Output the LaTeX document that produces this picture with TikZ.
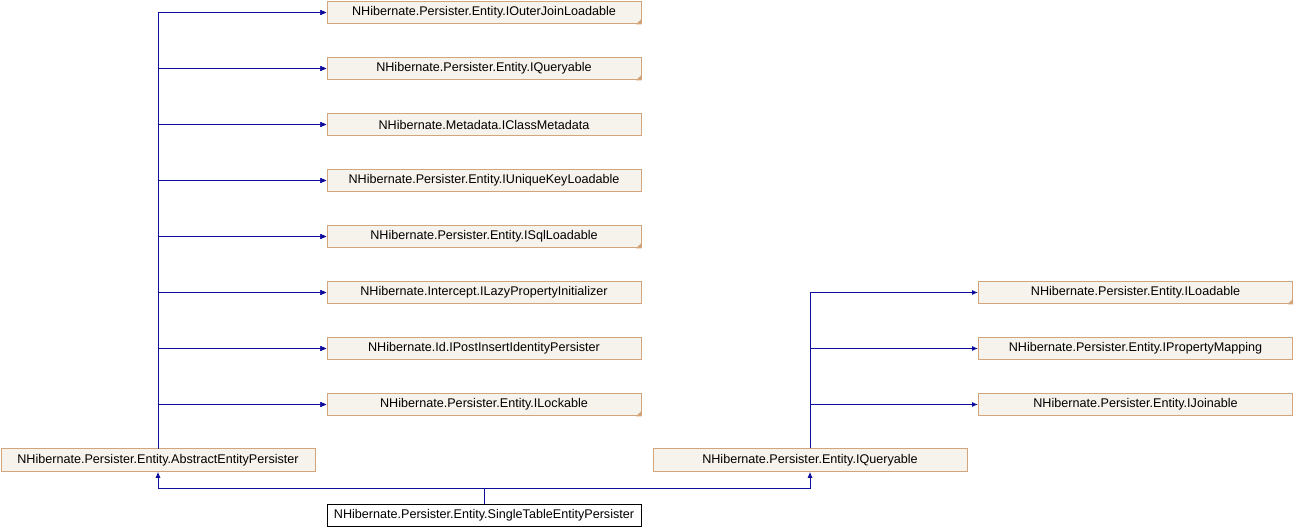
\documentclass[tikz,border=0pt]{standalone}
\usepackage{fontspec}
\setmainfont{Liberation Sans}
\usetikzlibrary{arrows.meta}
\definecolor{boxfill}{RGB}{246,242,236}
\definecolor{boxline}{RGB}{210,165,125}
\definecolor{edgeblue}{RGB}{14,14,158}
\tikzset{
  iface/.style={draw=boxline, fill=boxfill, line width=1pt, minimum width=314pt,
    minimum height=22.5pt, inner sep=0pt, font=\fontsize{12.6}{14}\selectfont},
  leaf/.style={iface, draw=black, fill=white},
  inherit/.style={draw=edgeblue, line width=1pt, -{Latex[length=6pt,width=5pt]}},
}
\newcommand{\dogear}[1]{\fill[boxline] ([xshift=-5.5pt]#1.south east) -- (#1.south east) -- ([yshift=5.5pt]#1.south east) -- cycle;}
\begin{document}
\begin{tikzpicture}[x=1pt,y=-1pt]
\useasboundingbox (0,0) rectangle (1294,528);
% interfaces of AbstractEntityPersister
\foreach \lbl [count=\i] in {Persister.Entity.IOuterJoinLoadable,Persister.Entity.IQueryable,
  Metadata.IClassMetadata,Persister.Entity.IUniqueKeyLoadable,Persister.Entity.ISqlLoadable,
  Intercept.ILazyPropertyInitializer,Id.IPostInsertIdentityPersister,Persister.Entity.ILockable}
  \node[iface] (left\i) at (484,{12.5+56*(\i-1)}) {NHibernate.\lbl};
% interfaces of IQueryable
\node[iface] (right1) at (1135.5,292.5) {NHibernate.Persister.Entity.ILoadable};
\node[iface] (right2) at (1135.5,348.5) {NHibernate.Persister.Entity.IPropertyMapping};
\node[iface] (right3) at (1135.5,404.5) {NHibernate.Persister.Entity.IJoinable};
% bases
\node[iface] (abstract) at (158,460) {NHibernate.Persister.Entity.AbstractEntityPersister};
\node[iface] (queryable) at (810,460) {NHibernate.Persister.Entity.IQueryable};
\node[leaf] (single) at (484,515.5) {NHibernate.Persister.Entity.SingleTableEntityPersister};
\coordinate (split) at (484,488);
\foreach \n in {left1,left2,left5,left8,right1}
  \dogear{\n}
\foreach \i in {1,...,8}
  \draw[inherit] (abstract.north) |- (left\i.west);
\foreach \i in {1,2,3}
  \draw[inherit] (queryable.north) |- (right\i.west);
\draw[inherit] (single.north) -- (split) -| (abstract.south);
\draw[inherit] (split) -| (queryable.south);
\end{tikzpicture}
\end{document}
